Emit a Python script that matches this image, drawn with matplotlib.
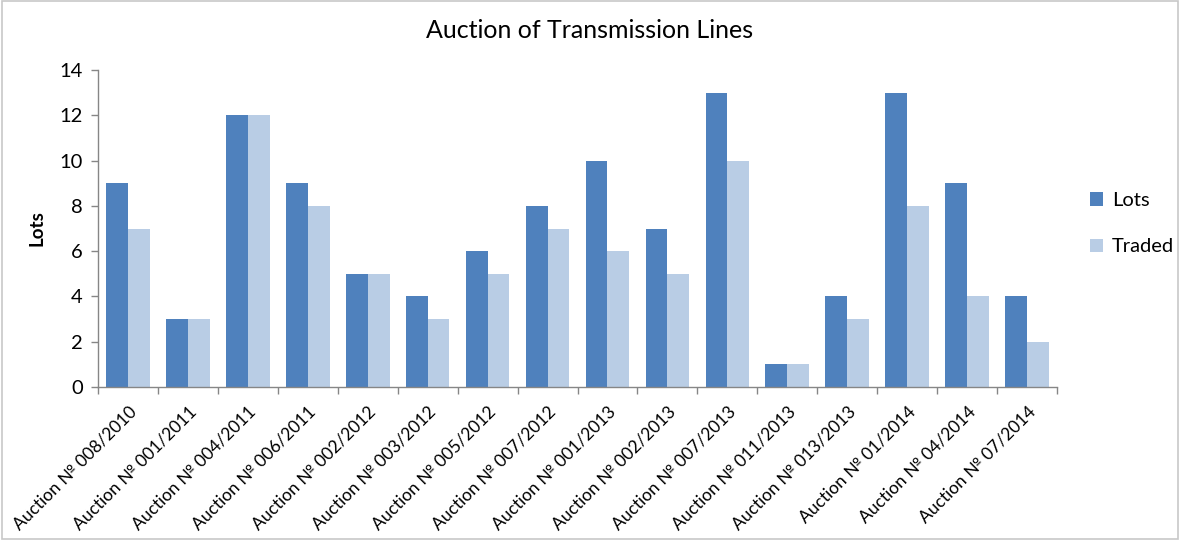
import matplotlib
matplotlib.use("Agg")
import matplotlib.pyplot as plt
import numpy as np
from matplotlib.patches import Rectangle

categories = ["Auction № 008/2010", "Auction № 001/2011", "Auction № 004/2011", "Auction № 006/2011",
              "Auction № 002/2012", "Auction № 003/2012", "Auction № 005/2012", "Auction № 007/2012",
              "Auction № 001/2013", "Auction № 002/2013", "Auction № 007/2013", "Auction № 011/2013",
              "Auction № 013/2013", "Auction № 01/2014", "Auction № 04/2014", "Auction № 07/2014"]
lots = [9, 3, 12, 9, 5, 4, 6, 8, 10, 7, 13, 1, 4, 13, 9, 4]
traded = [7, 3, 12, 8, 5, 3, 5, 7, 6, 5, 10, 1, 3, 8, 4, 2]
yticks = [0, 2, 4, 6, 8, 10, 12, 14]

plt.rcParams['font.family'] = ['Lato', 'DejaVu Sans']

fig = plt.figure(figsize=(11.8, 5.4), dpi=100)
ax = fig.add_axes([98/1180, 1-387/540, (1057-98)/1180, (387-70)/540])
fig.patches.append(Rectangle((0.002, 0.002), 0.996, 0.996, transform=fig.transFigure,
                             fill=False, edgecolor='#c8c8c8', linewidth=1.2))

x = np.arange(len(categories))
w = 0.364
ax.bar(x - w/2, lots, width=w, color='#4F81BD', label='Lots')
ax.bar(x + w/2, traded, width=w, color='#B9CDE5', label='Traded')

ax.set_xlim(-0.5, len(categories) - 0.5)
ax.set_ylim(0, 14)
ax.set_yticks(yticks)
ax.set_yticklabels([str(v) for v in yticks], fontsize=14.5)
ax.set_xticks(x)
ax.set_xticklabels(categories, rotation=45, ha='right', rotation_mode='anchor', fontsize=12.5)
ax.set_xticks(np.arange(-0.5, len(categories)), minor=True)
ax.tick_params(axis='x', which='major', length=0, pad=12)
ax.tick_params(axis='x', which='minor', length=5, color='#868686', width=1)
ax.tick_params(axis='y', length=5, color='#868686', width=1, pad=6)
for s in ['top', 'right']:
    ax.spines[s].set_visible(False)
for s in ['left', 'bottom']:
    ax.spines[s].set_color('#868686')
    ax.spines[s].set_linewidth(1)

ax.set_ylabel('Lots', fontsize=13.5, fontweight='bold', labelpad=10)
fig.text(0.5, 1-31/540, 'Auction of Transmission Lines', ha='center', va='center', fontsize=18)

leg = ax.legend(loc='center left', bbox_to_anchor=(1.015, 0.515), frameon=False, fontsize=14.5,
                labelspacing=1.45, handlelength=0.65, handleheight=0.65, handletextpad=0.45)

fig.savefig('out.png', dpi=100, facecolor='white')
